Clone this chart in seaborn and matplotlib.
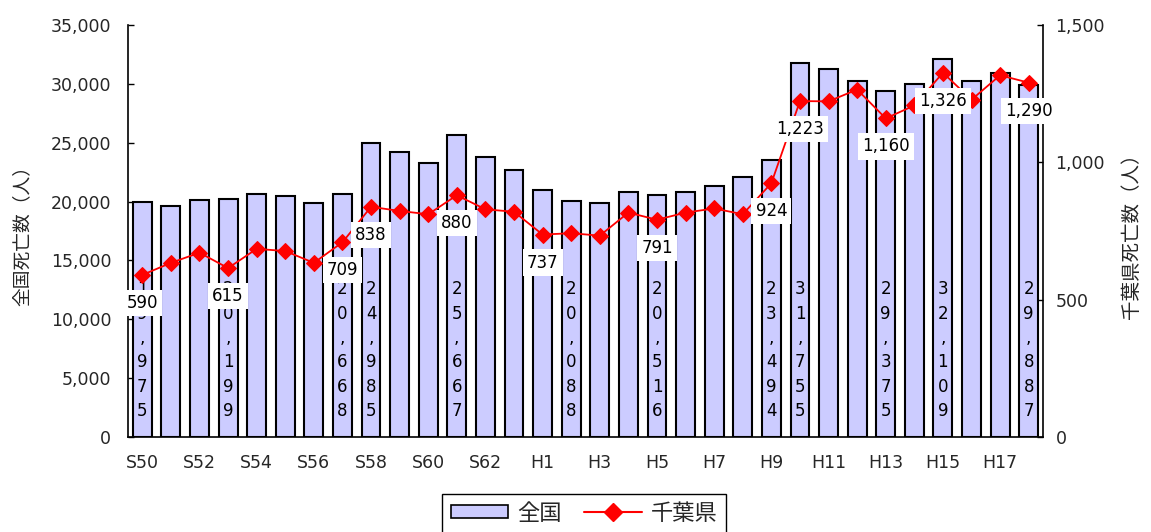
import numpy as np
import pandas as pd
import matplotlib
matplotlib.use("Agg")
import matplotlib.pyplot as plt
import seaborn as sns
from matplotlib.ticker import FuncFormatter
from matplotlib.patches import Patch
from matplotlib.lines import Line2D

# Fiscal years (Showa 50 .. Heisei 18)
years = [f"S{y}" for y in range(50, 64)] + [f"H{y}" for y in range(1, 19)]

# Nationwide deaths (left axis)
national = [19975, 19640, 20130, 20199, 20640, 20500, 19920, 20668,
            24985, 24250, 23250, 25667, 23770, 22690,
            21010, 20088, 19840, 20840, 20516, 20840, 21350, 22060,
            23494, 31755, 31230, 30260, 29375, 29950, 32109, 30230,
            30890, 29887]

# Chiba prefecture deaths (right axis)
chiba = [590, 634, 671, 615, 685, 677, 634, 709,
         838, 823, 811, 880, 829, 820,
         737, 742, 733, 817, 791, 817, 832, 811,
         924, 1223, 1222, 1265, 1160, 1207, 1326, 1228,
         1317, 1290]

# Years whose values are written on the chart
national_labelled = ["S50", "S53", "S57", "S58", "S61", "H2", "H5",
                     "H9", "H10", "H13", "H15", "H18"]
chiba_labelled = ["S50", "S53", "S57", "S58", "S61", "H1", "H5",
                  "H9", "H10", "H13", "H15", "H18"]

left_label = "全国死亡数（人）"
right_label = "千葉県死亡数（人）"
legend_names = ["全国", "千葉県"]

bar_color = "#CCCCFF"
line_color = "#FF0000"

sns.set_style("white")
plt.rcParams["font.family"] = ["DejaVu Sans", "Noto Sans CJK JP"]

df = pd.DataFrame({"year": years, "national": national, "chiba": chiba})
df["pos"] = np.arange(len(df))

W, H = 1151, 532
fig = plt.figure(figsize=(W / 100, H / 100), dpi=100)
ax = fig.add_axes([128 / W, 1 - 437 / H, (1043 - 128) / W, (437 - 25) / H])

sns.barplot(data=df, x="year", y="national", order=years, color=bar_color,
            saturation=1, edgecolor="black", linewidth=1.5, width=0.66,
            errorbar=None, ax=ax, zorder=2)

ax.set_ylim(0, 35000)
ax.set_yticks(np.arange(0, 35001, 5000))
ax.yaxis.set_major_formatter(FuncFormatter(lambda v, p: f"{int(v):,}"))
ax.set_xlim(-0.5, len(years) - 0.5)
ax.set_xticks(df["pos"][::2])
ax.set_xticklabels(years[::2])
ax.set_xticks(np.arange(0.5, len(years) - 0.5, 1), minor=True)
ax.tick_params(axis="x", which="major", length=0, pad=12, labelsize=12.5)
ax.tick_params(axis="x", which="minor", direction="in", length=4, width=1, color="black")
ax.tick_params(axis="y", direction="in", length=4, width=1, color="black",
               left=True, pad=12, labelsize=12.5)
ax.set_xlabel("")
ax.set_ylabel(left_label, fontsize=13.5)
ax.yaxis.set_label_coords(-0.105, 0.5)
for side in ["top", "right"]:
    ax.spines[side].set_visible(False)
for side in ["left", "bottom"]:
    ax.spines[side].set_color("black")
    ax.spines[side].set_linewidth(1.2)
ax.grid(False)

# Nationwide values written vertically inside the bars
for yr in national_labelled:
    i = years.index(yr)
    txt = "\n".join(f"{national[i]:,}")
    ax.annotate(txt, (i, 0), xytext=(0, 17), textcoords="offset pixels",
                ha="center", va="bottom", fontsize=12, linespacing=1.45,
                color="black", zorder=3)

ax2 = ax.twinx()
sns.lineplot(data=df, x="pos", y="chiba", color=line_color, linewidth=1.3,
             marker="D", markersize=8, markeredgecolor=line_color, ax=ax2, zorder=4)
ax2.set_ylim(0, 1500)
ax2.set_yticks([0, 500, 1000, 1500])
ax2.yaxis.set_major_formatter(FuncFormatter(lambda v, p: f"{int(v):,}"))
ax2.tick_params(axis="y", direction="in", length=4, width=1, color="black",
                right=True, pad=9, labelsize=12.5)
ax2.set_ylabel(right_label, fontsize=14)
ax2.yaxis.set_label_coords(1.086, 0.5)
ax2.set_xlabel("")
for side in ["top", "left", "bottom"]:
    ax2.spines[side].set_visible(False)
ax2.spines["right"].set_color("black")
ax2.spines["right"].set_linewidth(1.2)
ax2.grid(False)

# Chiba values in white boxes beneath the markers
for yr in chiba_labelled:
    i = years.index(yr)
    ax2.annotate(f"{chiba[i]:,}", (i, chiba[i]), xytext=(0, -28),
                 textcoords="offset pixels", ha="center", va="center",
                 fontsize=12, color="black", zorder=6,
                 bbox=dict(boxstyle="square,pad=0.25", fc="white", ec="none"))

handles = [Patch(facecolor=bar_color, edgecolor="black", linewidth=1.2, label=legend_names[0]),
           Line2D([], [], color=line_color, linewidth=1.5, marker="D", markersize=9,
                  label=legend_names[1])]
leg = fig.legend(handles=handles, ncol=2, loc="upper center",
                 bbox_to_anchor=(584 / W, 1 - 494 / H), frameon=True, fancybox=False,
                 edgecolor="black", framealpha=1, fontsize=16, handlelength=2.6,
                 handleheight=0.55, columnspacing=1.0, borderpad=0.4,
                 handletextpad=0.4, borderaxespad=0)
leg.get_frame().set_linewidth(1.0)

fig.savefig("out.png", dpi=100)
